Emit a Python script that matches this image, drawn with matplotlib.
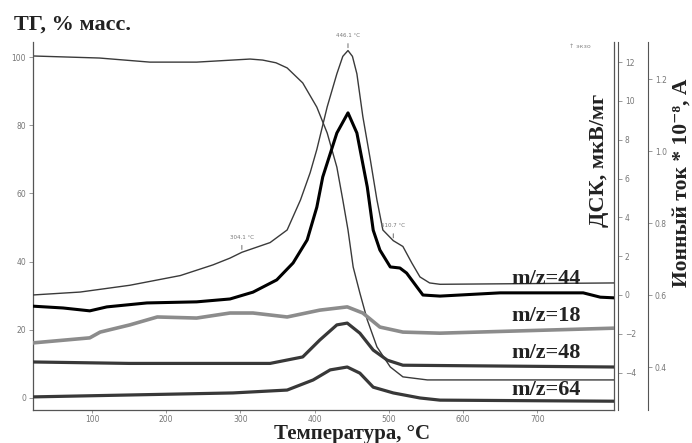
import matplotlib
matplotlib.use("Agg")
import matplotlib.pyplot as plt

# ---------------- data ----------------
tg_T = [20.5, 110, 178, 241, 313, 330, 348, 363, 384, 403, 417, 430, 438, 445, 452, 461, 471, 484, 502, 519, 552, 805]
tg_v = [100.3, 99.7, 98.5, 98.5, 99.4, 99.1, 98.3, 96.8, 92.4, 85.3, 77.7, 67.7, 58.1, 49.3, 38.4, 30.8, 22.9, 15.0, 9.1, 6.2, 5.3, 5.3]

dsc_T = [20.5, 84, 151, 219, 263, 286, 302, 340, 363, 381, 394, 403, 417, 430, 438, 445,
         451, 457, 465, 475, 484, 492, 506, 519, 531, 542, 555, 569, 805]
dsc_v = [0.0, 0.15, 0.5, 1.0, 1.55, 1.9, 2.2, 2.7, 3.35, 4.9, 6.3, 7.5, 9.7, 11.4, 12.3, 12.6,
         12.3, 11.4, 9.2, 7.0, 4.9, 3.35, 2.8, 2.5, 1.65, 0.93, 0.62, 0.55, 0.62]

m44_T = [20.5, 61, 97, 120, 174, 241, 286, 317, 349, 371, 390, 403, 411, 430, 445, 457, 471, 479,
         488, 502, 515, 524, 538, 546, 569, 650, 762, 785, 805]
m44_v = [0.569, 0.564, 0.556, 0.567, 0.578, 0.581, 0.589, 0.608, 0.642, 0.689, 0.753, 0.844, 0.928,
         1.05, 1.106, 1.05, 0.90, 0.78, 0.725, 0.678, 0.675, 0.661, 0.622, 0.60, 0.597, 0.606, 0.606, 0.594, 0.592]

m18_T = [20.5, 97, 111, 151, 188, 241, 286, 317, 363, 407, 444, 465, 488, 519, 569, 805]
m18_v = [0.467, 0.481, 0.497, 0.517, 0.539, 0.536, 0.55, 0.55, 0.539, 0.558, 0.567, 0.55, 0.511, 0.497, 0.494, 0.508]

m48_T = [20.5, 150, 340, 384, 407, 430, 444, 461, 479, 498, 519, 805]
m48_v = [0.414, 0.41, 0.41, 0.428, 0.475, 0.517, 0.522, 0.494, 0.447, 0.419, 0.405, 0.40]

m64_T = [20.5, 290, 363, 398, 421, 444, 461, 479, 506, 542, 569, 805]
m64_v = [0.317, 0.328, 0.336, 0.364, 0.392, 0.40, 0.383, 0.344, 0.328, 0.314, 0.308, 0.305]

x_ticks = [100, 200, 300, 400, 500, 600, 700]
tg_ticks = [0, 20, 40, 60, 80, 100]
dsc_ticks = [-4, -2, 0, 2, 4, 6, 8, 10, 12]
ion_ticks = [0.4, 0.6, 0.8, 1.0, 1.2]

peak_labels = [(302, 2.2, "304.1 °C"), (445, 12.6, "446.1 °C"), (506, 2.8, "510.7 °C")]

# ---------------- figure ----------------
W, H = 692, 443
PX = 72 / 100  # points per pixel
fig = plt.figure(figsize=(W / 100, H / 100), dpi=100)
L, R, B, T = 33, 614, 410, 42
ax = fig.add_axes([L / W, 1 - B / H, (R - L) / W, (B - T) / H])
ax2 = ax.twinx()
ax3 = ax.twinx()

serif = ["Liberation Serif", "DejaVu Serif"]
axcol = "#555555"
tickcol = "#888888"

ax.set_xlim(20.5, 803.5)
ax.set_ylim(-3.52, 104.4)
ax2.set_ylim(-5.93, 13.04)
ax3.set_ylim(0.2806, 1.3028)

# curves
ax.plot(tg_T, tg_v, color="#3a3a3a", lw=1.0)
ax2.plot(dsc_T, dsc_v, color="#3a3a3a", lw=1.0)
ax3.plot(m18_T, m18_v, color="#8c8c8c", lw=2.6)
ax3.plot(m48_T, m48_v, color="#383838", lw=2.3)
ax3.plot(m64_T, m64_v, color="#383838", lw=2.3)
ax3.plot(m44_T, m44_v, color="#000000", lw=2.2)

for xv, yv, s in peak_labels:
    ax2.annotate(s, xy=(xv, yv), xytext=(0, 9), textcoords="offset points",
                 ha="center", va="bottom", fontsize=4, color="#777777",
                 arrowprops=dict(arrowstyle="-", color="#555555", lw=0.6))

# spines
for a in (ax, ax2, ax3):
    a.spines["top"].set_visible(False)
for s in ("left", "bottom", "right"):
    ax.spines[s].set_color(axcol)
    ax.spines[s].set_linewidth(0.9)
ax2.spines["left"].set_visible(False)
ax2.spines["bottom"].set_visible(False)
ax2.spines["right"].set_position(("outward", 4 * PX))
ax2.spines["right"].set_color(axcol)
ax3.spines["left"].set_visible(False)
ax3.spines["bottom"].set_visible(False)
ax3.spines["right"].set_position(("outward", 34 * PX))
ax3.spines["right"].set_color(axcol)

ax.set_xticks(x_ticks)
ax.set_yticks(tg_ticks)
ax2.set_yticks(dsc_ticks)
ax3.set_yticks(ion_ticks)
ax3.set_yticklabels(["0.4", "0.6", "0.8", "1.0", "1.2"])
for a in (ax, ax2, ax3):
    a.tick_params(axis="both", direction="out", length=3, width=0.6, colors=tickcol,
                  labelsize=5.5, labelcolor="#777777", pad=2)
ax.tick_params(axis="y", right=False)
ax.tick_params(axis="x", length=2.5, pad=1)

# text labels
fig.text(14 / W, 1 - 30 / H, "ТГ, % масс.", family=serif, fontweight="bold",
         fontsize=16, ha="left", va="baseline", color="#222222")
fig.text(352 / W, 1 - 439 / H, "Температура, °C", family=serif, fontweight="bold",
         fontsize=15, ha="center", va="baseline", color="#222222")
fig.text(599 / W, 1 - 160 / H, "ДСК, мкВ/мг", family=serif, fontweight="bold",
         fontsize=16, ha="center", va="center", rotation=90, color="#222222")
fig.text(682 / W, 1 - 183 / H, "Ионный ток * 10⁻⁸, А", family=serif, fontweight="bold",
         fontsize=15.5, ha="center", va="center", rotation=90, color="#222222")
fig.text(580 / W, 1 - 47 / H, "↑ экзо", fontsize=4.5, ha="center", va="center", color="#888888")

mz = [("m/z=44", 279), ("m/z=18", 316), ("m/z=48", 353), ("m/z=64", 390)]
for s, yp in mz:
    fig.text(546 / W, 1 - yp / H, s, family=serif, fontweight="bold", fontsize=16,
             ha="center", va="center", color="#222222")

fig.savefig("out.png", dpi=100)
